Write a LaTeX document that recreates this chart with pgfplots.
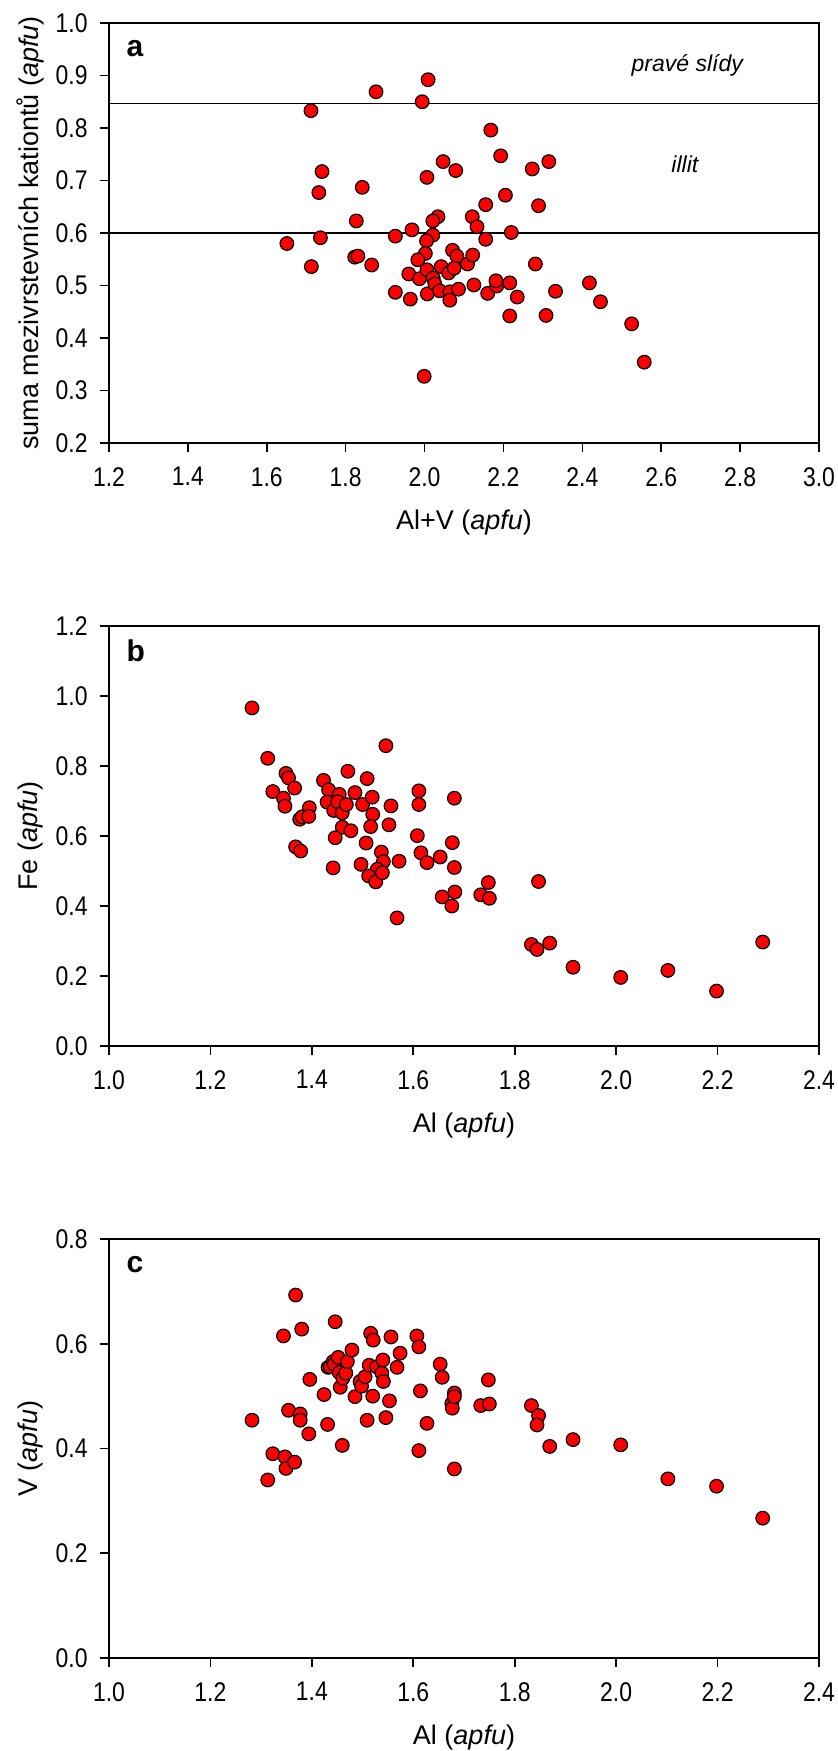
\documentclass[border=0pt]{standalone}
\usepackage{fontspec}
\setmainfont{Liberation Sans}
\newfontfamily\narrowfont[FakeStretch=0.85]{Liberation Sans}
\newcommand\tickfont{\narrowfont\fontsize{13.5}{15}\selectfont}
\usepackage{pgfplots}
\pgfplotsset{compat=1.18}

% panel a: suma mezivrstevnich kationtu vs Al+V
\pgfplotstableread{
x y
1.651 0.580
1.712 0.833
1.713 0.536
1.732 0.677
1.740 0.717
1.736 0.591
1.827 0.623
1.842 0.687
1.823 0.554
1.831 0.556
1.866 0.539
1.877 0.869
1.994 0.850
2.009 0.892
1.926 0.594
1.968 0.606
2.006 0.706
2.047 0.736
2.079 0.719
2.168 0.796
2.193 0.747
2.273 0.722
2.315 0.736
2.205 0.672
2.155 0.654
2.289 0.652
2.034 0.631
2.021 0.623
2.121 0.631
2.133 0.612
2.220 0.601
2.155 0.588
2.021 0.596
2.005 0.585
2.002 0.561
1.983 0.549
1.960 0.522
1.987 0.513
2.006 0.530
2.007 0.484
2.022 0.514
2.026 0.503
2.042 0.536
2.038 0.490
2.061 0.524
2.071 0.567
2.082 0.556
2.075 0.533
2.064 0.488
2.064 0.472
2.086 0.493
2.109 0.541
2.122 0.558
2.125 0.501
1.926 0.487
1.964 0.474
2.160 0.485
2.183 0.499
2.181 0.509
2.216 0.505
2.235 0.478
2.216 0.442
2.281 0.541
2.308 0.443
2.332 0.489
2.418 0.505
2.446 0.469
2.525 0.427
2.557 0.354
1.999 0.327
}\tabA

% panel b: Fe vs Al
\pgfplotstableread{
x y
1.282 0.966
1.313 0.822
1.323 0.727
1.349 0.779
1.354 0.766
1.344 0.708
1.347 0.685
1.366 0.737
1.376 0.648
1.381 0.655
1.395 0.681
1.394 0.656
1.368 0.569
1.378 0.557
1.423 0.759
1.433 0.732
1.430 0.697
1.454 0.719
1.443 0.673
1.451 0.698
1.460 0.666
1.468 0.690
1.471 0.785
1.485 0.724
1.460 0.625
1.477 0.615
1.446 0.595
1.442 0.509
1.509 0.764
1.500 0.690
1.519 0.711
1.520 0.662
1.516 0.627
1.556 0.686
1.552 0.632
1.546 0.858
1.507 0.580
1.537 0.554
1.541 0.527
1.497 0.519
1.529 0.505
1.512 0.486
1.526 0.469
1.539 0.495
1.572 0.528
1.568 0.366
1.611 0.729
1.611 0.690
1.608 0.601
1.615 0.552
1.627 0.524
1.653 0.540
1.657 0.426
1.676 0.400
1.681 0.708
1.677 0.581
1.681 0.510
1.682 0.440
1.733 0.432
1.748 0.467
1.750 0.422
1.847 0.470
1.833 0.290
1.844 0.276
1.869 0.294
1.915 0.225
2.009 0.196
2.102 0.216
2.198 0.157
2.289 0.297
}\tabB

% panel c: V vs Al
\pgfplotstableread{
x y
1.282 0.454
1.313 0.340
1.323 0.390
1.347 0.384
1.349 0.362
1.366 0.374
1.354 0.473
1.344 0.615
1.368 0.693
1.380 0.628
1.377 0.466
1.377 0.454
1.394 0.428
1.396 0.532
1.424 0.503
1.431 0.446
1.432 0.555
1.436 0.556
1.442 0.566
1.444 0.561
1.446 0.642
1.452 0.574
1.454 0.545
1.456 0.517
1.460 0.406
1.461 0.534
1.467 0.544
1.470 0.566
1.479 0.588
1.485 0.499
1.495 0.528
1.498 0.519
1.505 0.537
1.509 0.454
1.513 0.559
1.516 0.620
1.521 0.607
1.520 0.500
1.528 0.556
1.538 0.544
1.540 0.569
1.541 0.528
1.546 0.459
1.553 0.491
1.556 0.613
1.568 0.555
1.574 0.582
1.607 0.615
1.611 0.594
1.614 0.510
1.611 0.396
1.627 0.448
1.653 0.561
1.657 0.536
1.676 0.486
1.677 0.477
1.681 0.506
1.681 0.499
1.681 0.361
1.733 0.482
1.748 0.531
1.750 0.485
1.833 0.482
1.847 0.463
1.844 0.445
1.869 0.404
1.915 0.417
2.009 0.407
2.102 0.342
2.198 0.328
2.289 0.267
}\tabC

\pgfplotsset{
  panel/.style={
    anchor=south west,
    width=355pt, height=210pt, scale only axis,
    axis line style={line width=0.8pt},
    tick align=outside,
    xtick pos=bottom, ytick pos=left,
    major tick length=4.5pt,
    every tick/.style={black, line width=0.8pt},
    xticklabel={\tickfont\pgfmathprintnumber[fixed,fixed zerofill,precision=1,assume math mode=true]{\tick}},
    yticklabel={\tickfont\pgfmathprintnumber[fixed,fixed zerofill,precision=1,assume math mode=true]{\tick}},
    every x tick label/.append style={anchor=north, inner sep=0pt, yshift=-7.5pt},
    every y tick label/.append style={anchor=east, inner sep=0pt, xshift=-6pt},
    every axis x label/.append style={font=\fontsize{13.5}{16}\selectfont, at={(axis description cs:0.5,-0.19)}, anchor=center},
    every axis y label/.append style={font=\fontsize{13.5}{16}\selectfont, at={(axis description cs:-0.111,0.5)}, anchor=center},
  },
  pts/.style={only marks, mark=*, mark size=3.4pt,
    mark options={fill=red, draw=black, line width=0.6pt}},
}

\begin{document}
\begin{tikzpicture}
\useasboundingbox (0,0) rectangle (419pt,-875.5pt);

\begin{axis}[panel, at={(54.5pt,-221.5pt)},
  xmin=1.2, xmax=3.0, ymin=0.2, ymax=1.0,
  xtick={1.2,1.4,...,3.0}, ytick={0.2,0.3,...,1.0},
  xlabel={Al+V (\textit{apfu})},
  ylabel={suma mezivrstevních kationtů (\textit{apfu})}]
\addplot[black, line width=0.8pt] coordinates {(1.2,0.847) (3.0,0.847)};
\addplot[black, line width=0.8pt] coordinates {(1.2,0.6) (3.0,0.6)};
\addplot[pts] table {\tabA};
\node[anchor=west, font=\bfseries\fontsize{15}{18}\selectfont] at (axis description cs:0.015,0.94) {a};
\node[font=\itshape\fontsize{11.5}{13}\selectfont] at (axis cs:2.666,0.92) {pravé slídy};
\node[font=\itshape\fontsize{11.5}{13}\selectfont] at (axis cs:2.66,0.731) {illit};
\end{axis}

\begin{axis}[panel, at={(54.5pt,-523pt)},
  xmin=1.0, xmax=2.4, ymin=0, ymax=1.2,
  xtick={1.0,1.2,...,2.4}, ytick={0,0.2,...,1.2},
  xlabel={Al (\textit{apfu})},
  ylabel={Fe (\textit{apfu})}]
\addplot[pts] table {\tabB};
\node[anchor=west, font=\bfseries\fontsize{15}{18}\selectfont] at (axis description cs:0.015,0.94) {b};
\end{axis}

\begin{axis}[panel, at={(54.5pt,-829pt)}, height=209.5pt,
  xmin=1.0, xmax=2.4, ymin=0, ymax=0.8,
  xtick={1.0,1.2,...,2.4}, ytick={0,0.2,...,0.8},
  xlabel={Al (\textit{apfu})},
  ylabel={V (\textit{apfu})}]
\addplot[pts] table {\tabC};
\node[anchor=west, font=\bfseries\fontsize{15}{18}\selectfont] at (axis description cs:0.015,0.94) {c};
\end{axis}
\end{tikzpicture}
\end{document}
